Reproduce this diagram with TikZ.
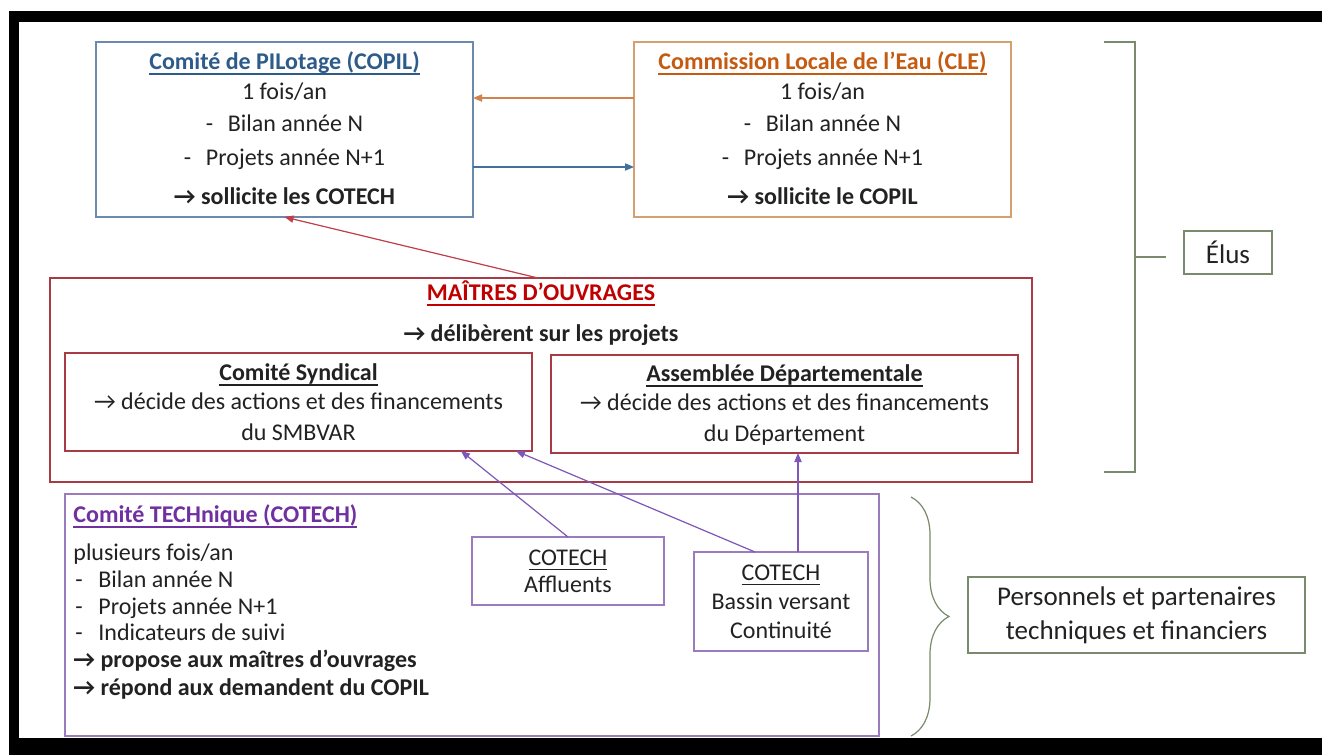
\documentclass[tikz,border=0pt]{standalone}
\usepackage{xcolor}
\usepackage{fontspec}
\setmainfont{Carlito}
\usepackage{tikz}
\usetikzlibrary{arrows.meta, positioning, calc, decorations.pathreplacing}
\definecolor{copilblue}{HTML}{2E5C8A}
\definecolor{copilline}{HTML}{6A8BAD}
\definecolor{copilarrow}{HTML}{41719C}
\definecolor{cleorange}{HTML}{C55A11}
\definecolor{cleline}{HTML}{D4A070}
\definecolor{clearrow}{HTML}{D2824A}
\definecolor{mored}{HTML}{C00000}
\definecolor{moline}{HTML}{A83B45}
\definecolor{moarrow}{HTML}{C0404A}
\definecolor{techpurple}{HTML}{7030A0}
\definecolor{techline}{HTML}{9A7CBE}
\definecolor{techarrow}{HTML}{7E57B8}
\definecolor{eluline}{HTML}{7A8A6C}
\definecolor{textdark}{HTML}{222222}
\newcommand{\undl}[1]{{\setbox0\hbox{#1}\rlap{\rule[-2.6pt]{\wd0}{0.7pt}}\box0}}
\newcommand{\dsh}[1]{\makebox[#1][l]{-}}

\begin{document}
\begin{tikzpicture}[x=0.5pt, y=-0.5pt,
    box/.style={rectangle, draw, line width=0.6pt, inner sep=0pt, outer sep=0pt},
    txt/.style={font=\fontsize{12}{14}\selectfont, text=textdark, inner sep=0pt, text height=7.6pt, text depth=0pt},
    ttl/.style={txt, font=\fontsize{12}{14}\selectfont\bfseries},
    big/.style={font=\fontsize{13.5}{17}\selectfont, text=textdark, align=center},
    arrow/.style={-{Triangle[length=4.5pt, width=3.6pt]}, line width=0.6pt}
]
\useasboundingbox (0,0) rectangle (1322,755);
\fill[white] (0,0) rectangle (1322,755);

% black frame
\fill[black] (9,11) rectangle (1322,22);
\fill[black] (9,11) rectangle (19,755);
\fill[black] (9,738) rectangle (1322,755);

% COPIL
\node[box, draw=copilline, minimum width=188.5pt, minimum height=87.5pt] (copil) at (284.5,129.5) {};
\node[ttl, text=copilblue] at (284.5,62) {\undl{Comité de PILotage (COPIL)}};
\node[txt] at (284.5,92) {1 fois/an};
\node[txt] at (284.5,124) {\dsh{11pt}Bilan année N};
\node[txt] at (284.5,158) {\dsh{11pt}Projets année N+1};
\node[ttl] at (284.5,197) {→ sollicite les COTECH};

% CLE
\node[box, draw=cleline, minimum width=188.5pt, minimum height=87.5pt] (cle) at (822.5,129.5) {};
\node[ttl, text=cleorange] at (822.5,62) {\undl{Commission Locale de l’Eau (CLE)}};
\node[txt] at (822.5,92) {1 fois/an};
\node[txt] at (822.5,124) {\dsh{11pt}Bilan année N};
\node[txt] at (822.5,158) {\dsh{11pt}Projets année N+1};
\node[ttl] at (822.5,197) {→ sollicite le COPIL};

\draw[arrow, draw=clearrow, fill=clearrow] ([yshift=15.75pt]cle.west) -- ([yshift=15.75pt]copil.east);
\draw[arrow, draw=copilarrow, fill=copilarrow] ([yshift=-18.75pt]copil.east) -- ([yshift=-18.75pt]cle.west);

% Maitres d'ouvrages
\node[box, draw=moline, minimum width=491pt, minimum height=102pt] (mo) at (541,380) {};
\node[ttl, text=mored] at (541,293) {\undl{MAÎTRES D’OUVRAGES}};
\node[ttl] at (541,334) {→ délibèrent sur les projets};

\node[box, draw=moline, minimum width=233.5pt, minimum height=49pt] (syn) at (298.5,402) {};
\node[ttl] at (298.5,373) {\undl{Comité Syndical}};
\node[txt] at (298.5,402) {→ décide des actions et des financements};
\node[txt] at (298.5,433) {du SMBVAR};

\node[box, draw=moline, minimum width=233.5pt, minimum height=49pt] (ad) at (784.5,404) {};
\node[ttl] at (784.5,374) {\undl{Assemblée Départementale}};
\node[txt] at (784.5,403) {→ décide des actions et des financements};
\node[txt] at (784.5,434) {du Département};

\draw[arrow, draw=moarrow, fill=moarrow] ([xshift=-1.5pt]mo.north) -- (copil.south);

% COTECH
\node[box, draw=techline, minimum width=407pt, minimum height=121pt] (tech) at (472,615) {};
\node[ttl, text=techpurple, anchor=west] at (73,515) {\undl{Comité TECHnique (COTECH)}};
\node[txt, anchor=west] at (73,553) {plusieurs fois/an};
\node[txt, anchor=west] at (75,580) {\dsh{11.5pt}Bilan année N};
\node[txt, anchor=west] at (75,607) {\dsh{11.5pt}Projets année N+1};
\node[txt, anchor=west] at (75,633) {\dsh{11.5pt}Indicateurs de suivi};
\node[ttl, anchor=west] at (73,660) {→ propose aux maîtres d’ouvrages};
\node[ttl, anchor=west] at (73,688) {→ répond aux demandent du COPIL};

\node[box, draw=techline, minimum width=96pt, minimum height=34pt, big, font=\fontsize{12}{13.5}\selectfont] (aff) at (568,571) {\undl{COTECH}\\Affluents};
\node[box, draw=techline, minimum width=87pt, minimum height=49.5pt, big, font=\fontsize{12}{14.5}\selectfont] (bv) at (781,601.5) {\undl{COTECH}\\Bassin versant\\Continuité};
\coordinate (bvtop) at ([xshift=8.5pt]bv.north);

\draw[arrow, draw=techarrow, fill=techarrow] (aff.north) -- ([xshift=81.25pt]syn.south);
\draw[arrow, draw=techarrow, fill=techarrow] ([xshift=-13pt]bv.north) -- ([xshift=108.75pt]syn.south);
\draw[arrow, draw=techarrow, fill=techarrow] (bvtop) -- (bvtop |- ad.south);

% Elus
\draw[eluline, line width=0.6pt] (1104,42) -- (1135,42) -- (1135,472) -- (1104,472);
\draw[eluline, line width=0.6pt] (1135,257) -- (1166,257);
\node[box, draw=eluline, minimum width=44pt, minimum height=21.5pt, big] (elus) at (1228,252.5) {Élus};

% Personnels
\draw[eluline, line width=0.6pt, decorate, decoration={brace, amplitude=19pt}] (911,497) -- (911,736);
\node[box, draw=eluline, minimum width=168.5pt, minimum height=38pt, big] (pers) at (1136.5,615) {Personnels et partenaires\\techniques et financiers};

\end{tikzpicture}
\end{document}
